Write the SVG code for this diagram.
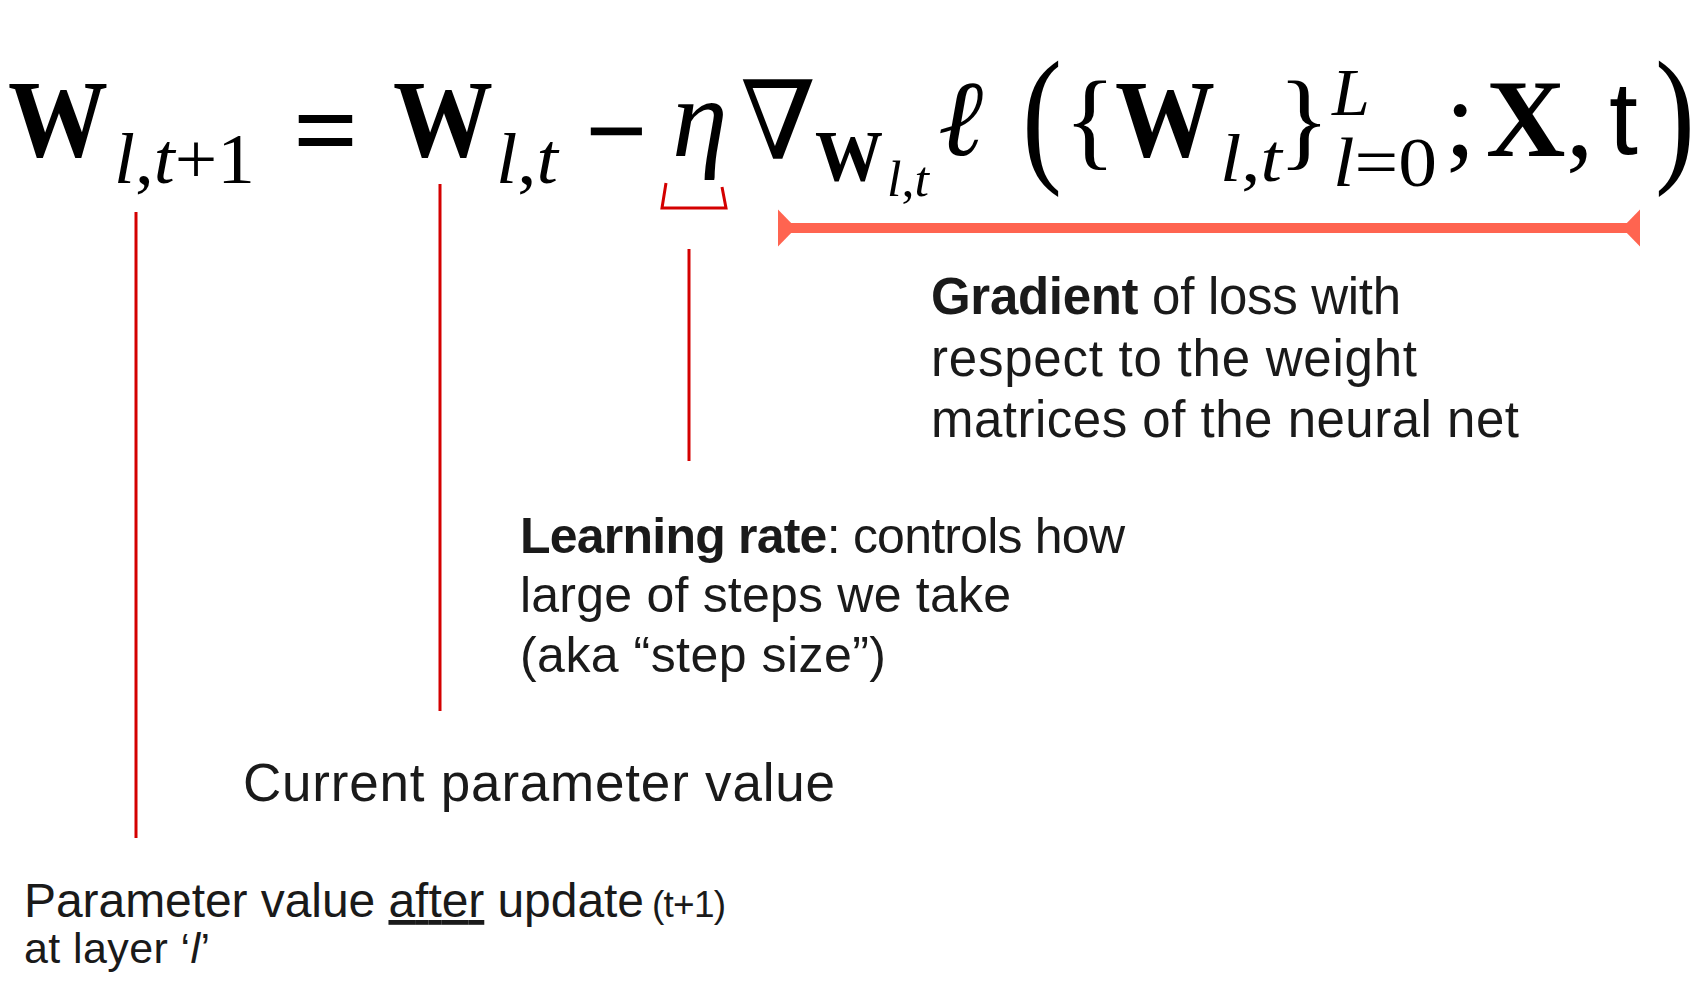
<svg xmlns="http://www.w3.org/2000/svg" width="1702" height="999" viewBox="0 0 1702 999">
<style>
.m{font-family:"Liberation Serif","DejaVu Serif",serif;fill:#000}
.b{font-weight:bold}
.i{font-style:italic}
.lbl{font-family:"Liberation Sans",Arial,sans-serif;fill:#1a1a1a}
.red{stroke:#d40000;stroke-width:3;fill:none;stroke-linecap:butt}
.bar{stroke:#ff6450;stroke-width:10;fill:none}
</style>
<defs>
<marker id="tee" markerUnits="userSpaceOnUse" viewBox="-20 -20 20 40" refX="0" refY="0" markerWidth="20" markerHeight="40" orient="auto-start-reverse">
<path d="M0,-18.5 L0,18.5 L-18,0 Z" fill="#ff6450"/>
</marker>
</defs>
<rect width="1702" height="999" fill="#fff"/>
<g id="equation">
<text class="m b" x="8" y="156" font-size="110" textLength="100" lengthAdjust="spacingAndGlyphs">W</text>
<text class="m" x="114" y="183" font-size="72" textLength="141" lengthAdjust="spacingAndGlyphs"><tspan class="i">l</tspan>,<tspan class="i">t</tspan>+1</text>
<text class="m b" x="293" y="169" font-size="115">=</text>
<text class="m b" x="393" y="156" font-size="110" textLength="100" lengthAdjust="spacingAndGlyphs">W</text>
<text class="m" x="496" y="183" font-size="72" textLength="62" lengthAdjust="spacingAndGlyphs"><tspan class="i">l</tspan>,<tspan class="i">t</tspan></text>
<text class="m b" x="585" y="168" font-size="110">−</text>
<text class="m i" x="672" y="156" font-size="112">η</text>
<text x="740" y="159" font-size="109" font-family="DejaVu Serif,serif" fill="#000">∇</text>
<text class="m b" x="815" y="180" font-size="72" textLength="68" lengthAdjust="spacingAndGlyphs">W</text>
<text class="m" x="887" y="196" font-size="50" textLength="42" lengthAdjust="spacingAndGlyphs"><tspan class="i">l</tspan>,<tspan class="i">t</tspan></text>
<text class="m i" x="938" y="155" font-size="108">ℓ</text>
<text class="m" x="1022" y="165" font-size="150" textLength="40" lengthAdjust="spacingAndGlyphs">(</text>
<text class="m" x="1064" y="156" font-size="108">{</text>
<text class="m b" x="1115" y="156" font-size="110" textLength="100" lengthAdjust="spacingAndGlyphs">W</text>
<text class="m" x="1220" y="181" font-size="68" textLength="62" lengthAdjust="spacingAndGlyphs"><tspan class="i">l</tspan>,<tspan class="i">t</tspan></text>
<text class="m" x="1278" y="156" font-size="108">}</text>
<text class="m i" x="1332" y="115" font-size="68">L</text>
<text class="m" x="1333" y="186" font-size="70" textLength="104" lengthAdjust="spacingAndGlyphs"><tspan class="i">l</tspan>=0</text>
<text class="m" x="1445" y="156" font-size="110">;</text>
<text class="m b" x="1486" y="156" font-size="110">X</text>
<text class="m" x="1566" y="156" font-size="110">,</text>
<text x="1609" y="154" font-size="104" font-family="Liberation Sans,Arial,sans-serif" fill="#000">t</text>
<text class="m" x="1655" y="165" font-size="150" textLength="40" lengthAdjust="spacingAndGlyphs">)</text>
</g>
<g id="label-gradient" class="lbl" font-size="51">
<text x="931" y="314" textLength="470"><tspan font-weight="bold">Gradient</tspan> of loss with</text>
<text x="931" y="376" textLength="486">respect to the weight</text>
<text x="931" y="437" textLength="588">matrices of the neural net</text>
</g>
<g id="label-learning-rate" class="lbl" font-size="50">
<text x="520" y="553" textLength="605"><tspan font-weight="bold">Learning rate</tspan>: controls how</text>
<text x="520" y="612" textLength="491">large of steps we take</text>
<text x="520" y="672" textLength="366">(aka “step size”)</text>
</g>
<g id="label-current" class="lbl">
<text x="243" y="801" font-size="53" textLength="592">Current parameter value</text>
</g>
<g id="label-after" class="lbl">
<text x="24" y="917" font-size="48" textLength="620">Parameter value <tspan text-decoration="underline">after</tspan> update</text>
<text x="652" y="917" font-size="37" textLength="74">(t+1)</text>
<text x="24" y="963" font-size="43" textLength="186">at layer ‘<tspan class="i">l</tspan>’</text>
</g>
<g id="connectors">
<line class="red" x1="136" y1="212" x2="136" y2="838"/>
<line class="red" x1="440" y1="184" x2="440" y2="711"/>
<path class="red" d="M666,183 L662,208 L726,208 L722,187"/>
<line class="red" x1="689" y1="249" x2="689" y2="461"/>
<line class="bar" x1="778" y1="228" x2="1640" y2="228" marker-start="url(#tee)" marker-end="url(#tee)"/>
</g>
</svg>
